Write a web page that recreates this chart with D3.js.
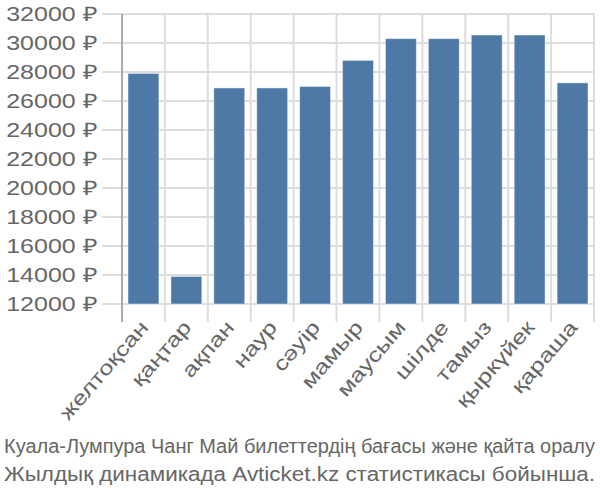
<!DOCTYPE html>
<html><head><meta charset="utf-8">
<script src="https://cdn.jsdelivr.net/npm/d3@7"></script>
<style>body{margin:0;background:#fff}</style>
</head><body>
<svg id="c" width="600" height="500"></svg>
<script>
const categories = ["желтоқсан","қаңтар","ақпан","наур","сәуір","мамыр","маусым","шілде","тамыз","қыркүйек","қараша"];
const values = [27900,13900,26900,26900,27000,28800,30300,30300,30550,30550,27250];
const yTicks = [12000,14000,16000,18000,20000,22000,24000,26000,28000,30000,32000];
const titleLines = ["Куала-Лумпура Чанг Май билеттердің бағасы және қайта оралу","Жылдық динамикада Avticket.kz статистикасы бойынша."];

(function () {
const svg = d3.select("#c");
const mLeft = 122, mRight = 594, mTop = 14, mBottom = 304;
const x = d3.scaleBand().domain(categories).range([mLeft, mRight]).paddingInner(0.28).paddingOuter(0.14);
const y = d3.scaleLinear().domain([12000, 32000]).range([mBottom, mTop]);
const textColor = "#666";
const font = "'Liberation Sans', Arial, sans-serif";

svg.append("g").selectAll("line").data(yTicks).join("line")
  .attr("x1", mLeft - 20).attr("x2", mRight)
  .attr("y1", d => y(d)).attr("y2", d => y(d))
  .attr("stroke", "#ddd").attr("stroke-width", 2);

const bounds = categories.map(c => x(c) - x.step() * x.paddingInner() / 2);
bounds.push(mRight);
svg.append("g").selectAll("line").data(bounds.slice(1)).join("line")
  .attr("x1", d => d).attr("x2", d => d)
  .attr("y1", mTop).attr("y2", mBottom + 18)
  .attr("stroke", "#ddd").attr("stroke-width", 2);

svg.append("line").attr("x1", mLeft).attr("x2", mLeft).attr("y1", mTop).attr("y2", mBottom + 18)
  .attr("stroke", "#aaa").attr("stroke-width", 2);

svg.append("g").selectAll("rect").data(values).join("rect")
  .attr("x", (d, i) => x(categories[i]))
  .attr("width", x.bandwidth())
  .attr("y", d => y(d))
  .attr("height", d => y(12000) - y(d))
  .attr("fill", "#4e79a7")
  .attr("stroke", "rgba(255,255,255,0.45)").attr("stroke-width", 1);

svg.append("g").selectAll("text").data(yTicks).join("text")
  .attr("transform", d => `translate(97,${y(d)}) scale(1.25,1)`)
  .attr("dy", "0.35em")
  .attr("text-anchor", "end").attr("fill", textColor)
  .style("font", "20px " + font)
  .text(d => d + " ₽");

svg.append("g").selectAll("text").data(categories).join("text")
  .attr("transform", c => `translate(${x(c) + x.bandwidth() / 2 + 6},${mBottom + 24}) rotate(-49) scale(1.28,1)`)
  .attr("text-anchor", "end").attr("fill", textColor)
  .style("font", "20px " + font)
  .text(c => c);

svg.append("g").selectAll("text").data(titleLines).join("text")
  .attr("x", 4).attr("y", (d, i) => 453 + i * 28)
  .attr("textLength", 591).attr("lengthAdjust", "spacingAndGlyphs")
  .attr("fill", textColor)
  .style("font", "20px 'Liberation Sans Narrow', 'Liberation Sans', sans-serif")
  .text(d => d);
})();
</script>
</body></html>
